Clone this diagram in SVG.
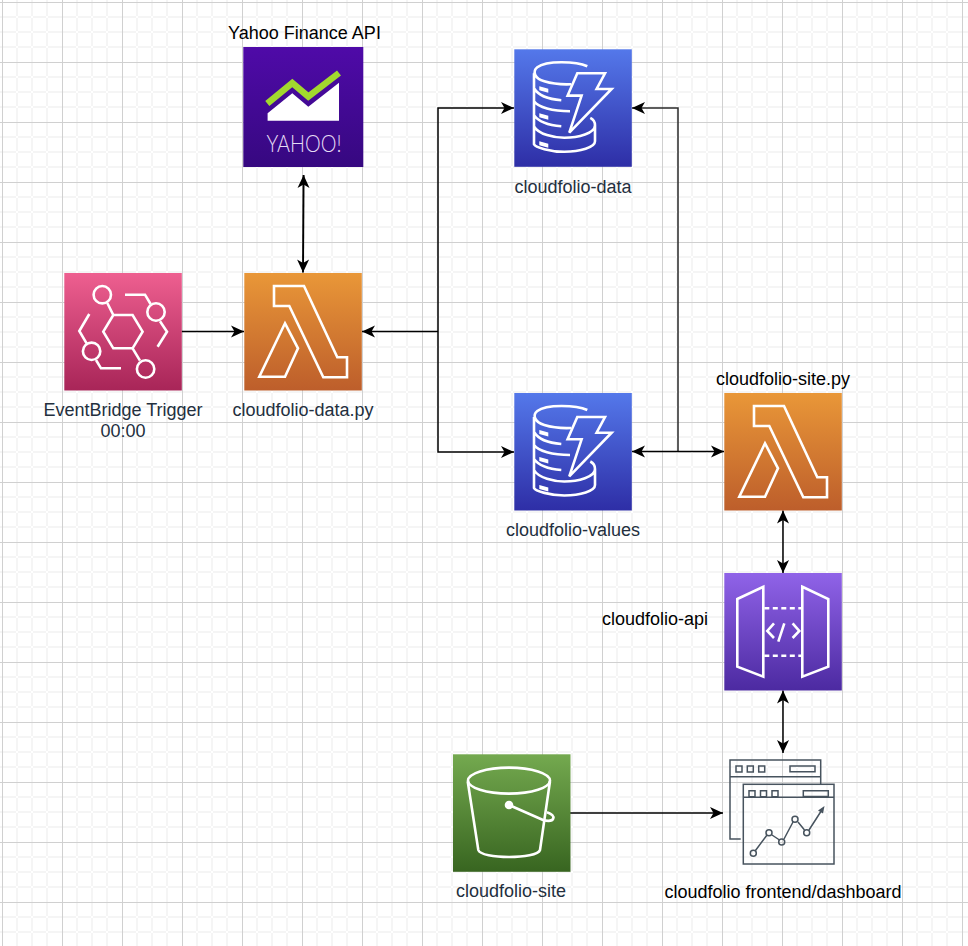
<svg xmlns="http://www.w3.org/2000/svg" xmlns:xlink="http://www.w3.org/1999/xlink" width="968" height="946" viewBox="0 0 968 946">
<style>
text{font-family:"Liberation Sans",Arial,sans-serif;font-size:18px;text-anchor:middle}
.aws{fill:#232f3e}.blk{fill:#000}
.ic{fill:none;stroke:#fff;stroke-width:2.6;stroke-linejoin:miter}
.dash{fill:none;stroke:#47535e;stroke-width:1.5}
.conn{fill:none;stroke:#000;stroke-width:1.5}
.dk{stroke:#2a2a2a}
</style>
<defs>
<pattern id="grid" width="60" height="60" patternUnits="userSpaceOnUse">
<rect width="60" height="60" fill="#fff"/>
<path d="M16 0h2v60h-2zM31 0h2v60h-2zM46 0h2v60h-2zM0 16v2h60v-2zM0 31v2h60v-2zM0 46v2h60v-2z" fill="#f5f5f5"/>
<path d="M2 0h1v60h-1zM0 2h60v1h-60z" fill="#d0d0d0"/>
</pattern>
<linearGradient id="gL" x1="0" y1="0" x2="0" y2="1"><stop offset="0" stop-color="#e99738"/><stop offset="1" stop-color="#bd5e2b"/></linearGradient>
<linearGradient id="gE" x1="0" y1="0" x2="0" y2="1"><stop offset="0" stop-color="#ee5f90"/><stop offset="1" stop-color="#a82558"/></linearGradient>
<linearGradient id="gD" x1="0" y1="0" x2="0" y2="1"><stop offset="0" stop-color="#5478ea"/><stop offset="1" stop-color="#2e2ea6"/></linearGradient>
<linearGradient id="gA" x1="0" y1="0" x2="0" y2="1"><stop offset="0" stop-color="#9063e8"/><stop offset="1" stop-color="#4c2aa1"/></linearGradient>
<linearGradient id="gS" x1="0" y1="0" x2="0" y2="1"><stop offset="0" stop-color="#74a94f"/><stop offset="1" stop-color="#386520"/></linearGradient>
<linearGradient id="gY" x1="0" y1="0" x2="0" y2="1"><stop offset="0" stop-color="#4f0aa8"/><stop offset="1" stop-color="#360880"/></linearGradient>
<marker id="arr" viewBox="-14 -7 15 14" refX="0" refY="0" markerUnits="userSpaceOnUse" markerWidth="15" markerHeight="14" orient="auto-start-reverse"><path d="M0 0L-13 -6L-9.500 0L-13 6Z" fill="#000"/></marker>
<g id="lambda">
<rect width="117.500" height="117.500" fill="url(#gL)"/>
<path class="ic" d="M29.700 13H59.700L93 84.300H102.700V104.300H79L45 33H29.700ZM40.700 50.300L53.700 75.300L40.700 103.700H15Z"/>
</g>
<g id="dynamo">
<rect width="117.500" height="117.500" fill="url(#gD)"/>
<path class="ic" d="M73 17C62 12 32 11 23 18C18 22 20 29 30 32C38 34.500 46 35.500 57 35M19.700 24V95C21 98 36 102.500 50 102.500C66 102.500 80.700 98 80.700 92V76C80.700 72 79 70 76 68.500M19.700 39C24 46 34 50 47 51M19.700 52C24 58 38 62 55.700 62M19.700 66C24 72 34 76 47 77M19.700 77C24 85 40 88.500 50 88.500C64 88.500 80.700 84 80.700 76"/>
<path d="M25 37L34 39.500V43.500L25 41ZM25 64L34 66.500V70.500L25 68ZM25 92L34 94.500V98.500L25 96Z" fill="#fff"/>
<path class="ic" d="M63 24H90.700L82.300 39.700H97.300L55 83.300L67.300 46.300H53.300Z"/>
</g>
</defs>
<rect width="968" height="946" fill="url(#grid)"/>

<g id="connectors">
<path class="conn" style="stroke-width:1.900" d="M303.600 175L303 272.500" marker-start="url(#arr)" marker-end="url(#arr)"/>
<path class="conn" d="M181.500 331.500H244" marker-end="url(#arr)"/>
<path class="conn" d="M438 331.500H362" marker-end="url(#arr)"/>
<path class="conn" d="M514 108H438V452H514" marker-start="url(#arr)" marker-end="url(#arr)"/>
<path class="conn dk" d="M632 108H678V452" marker-start="url(#arr)"/>
<path class="conn" d="M632 451.500H724" marker-start="url(#arr)" marker-end="url(#arr)"/>
<path class="conn" d="M783 510.500V573" marker-start="url(#arr)" marker-end="url(#arr)"/>
<path class="conn" d="M783 690.500V753" marker-start="url(#arr)" marker-end="url(#arr)"/>
<path class="conn" d="M570 813H723" marker-end="url(#arr)"/>
</g>

<g id="yahoo">
<rect x="243.300" y="47" width="120" height="120" fill="url(#gY)"/>
<path d="M267.300 103.500L292.300 83L308.300 96.500L339 73" fill="none" stroke="#a2d92e" stroke-width="6.500"/>
<path d="M267.600 113.300L292.300 93.300L308.300 106.700L339 82.700V120.700H267.600Z" fill="#fff"/>
<text x="304" y="152" textLength="75" lengthAdjust="spacingAndGlyphs" style="font-family:Lato,'Liberation Sans',sans-serif;font-size:24px;font-weight:300;fill:#e6dcf5">YAHOO!</text>
<text class="blk" x="304.500" y="39">Yahoo Finance API</text>
</g>

<g id="eventbridge">
<g transform="translate(64.300 273)">
<rect width="117.500" height="117.500" fill="url(#gE)"/>
<g class="ic">
<path d="M39 58.700L49 42H68.300L78.300 58.700L68.300 75.300H49Z"/>
<circle cx="38" cy="21.700" r="8.700"/><circle cx="91.700" cy="39" r="8.700"/><circle cx="27.300" cy="78.300" r="8.700"/><circle cx="81.300" cy="96" r="8.700"/>
<path d="M43 30L49 42M60.700 21.700H80.700L86.300 31M95.700 48.300L102.700 58.700L93.300 73.700M25 41L15 58L22.300 70.300M31.700 87L36.700 95.300H56.700M68.300 75.300L75.700 87.700"/>
</g>
</g>
<text class="aws" x="123" y="416">EventBridge Trigger</text>
<text class="aws" x="123" y="437">00:00</text>
</g>

<g id="lambda-data">
<use href="#lambda" xlink:href="#lambda" x="244.300" y="273"/>
<text class="aws" x="303" y="416">cloudfolio-data.py</text>
</g>

<g id="dynamo-data">
<use href="#dynamo" xlink:href="#dynamo" x="514.300" y="49.300"/>
<text class="aws" x="573" y="193">cloudfolio-data</text>
</g>

<g id="dynamo-values">
<use href="#dynamo" xlink:href="#dynamo" x="514.300" y="393"/>
<text class="aws" x="573" y="536">cloudfolio-values</text>
</g>

<g id="lambda-site">
<use href="#lambda" xlink:href="#lambda" x="724.300" y="393"/>
<text class="blk" x="783" y="385">cloudfolio-site.py</text>
</g>

<g id="api">
<g transform="translate(724.300 573)">
<rect width="117.500" height="117.500" fill="url(#gA)"/>
<path class="ic" d="M13 26L39 13.700V103.700L13 93.700ZM78 13.700L104 26V93.700L78 103.700Z"/>
<path class="ic" stroke-dasharray="5 3.500" d="M40 35.300H78M40 82.700H78"/>
<path class="ic" d="M49.700 50.300L43 58L49.700 65M68.300 50.300L75 58L68.300 65M60 50.300L54 68.700"/>
</g>
<text class="blk" x="655" y="625">cloudfolio-api</text>
</g>

<g id="s3">
<rect x="453" y="754.300" width="117.500" height="117.500" fill="url(#gS)"/>
<g class="ic" transform="translate(453 754.300)">
<ellipse cx="56" cy="26.300" rx="41" ry="13"/>
<path d="M14.700 27L25.300 95.700C28 105 84 105 87 95.700L97 27"/>
<path d="M56 50.700L90 65.700C102 69 104 61 94 58"/>
<circle cx="56" cy="50.700" r="3" fill="#fff"/>
</g>
<text class="aws" x="511" y="897">cloudfolio-site</text>
</g>

<g id="dashboard">
<path class="dash" d="M740.700 839H730V760H820.700V784M730 776.700H820.700"/>
<rect class="dash" x="743.300" y="784.300" width="90.700" height="79.700"/>
<path class="dash" d="M743.300 797.300H834"/>
<path class="dash" d="M736 766h6v6h-6zM747.300 766h6v6h-6zM758.700 766h6v6h-6zM790 766h25v5.700h-25zM749 790.700h6v6h-6zM760.500 790.700h6v6h-6zM772 790.700h6v6h-6zM803.300 790.700h25v5.700h-25z"/>
<path class="dash" d="M755.300 850.700L767 835M772 835L779.500 840M784 839L793 822M798 822L804.500 830M809 830L822.500 809"/>
<path d="M824.500 806L823 813.500L818 810.500Z" fill="#47535e"/>
<g class="dash"><circle cx="753.300" cy="853.300" r="3"/><circle cx="769" cy="832.700" r="3"/><circle cx="781.700" cy="842" r="3"/><circle cx="795" cy="819.300" r="3"/><circle cx="806.700" cy="832.700" r="3"/></g>
<text class="blk" x="783" y="898">cloudfolio frontend/dashboard</text>
</g>
</svg>
